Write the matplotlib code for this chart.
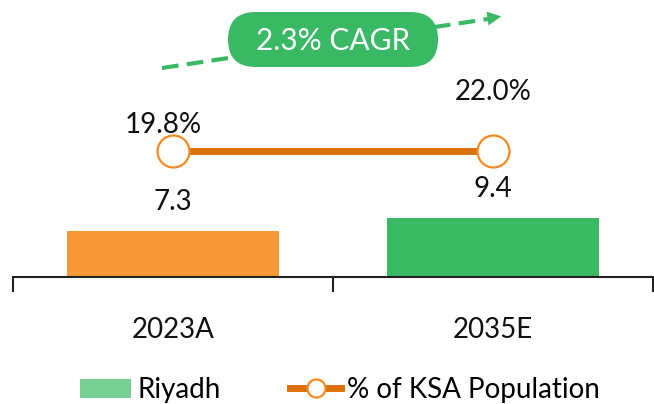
import matplotlib
matplotlib.use('Agg')
import matplotlib.pyplot as plt
from matplotlib.patches import FancyBboxPatch, Patch
from matplotlib.lines import Line2D

years = ['2023A', '2035E']
riyadh_pop = [7.3, 9.4]
ksa_share = [19.8, 22.0]
cagr_text = '2.3% CAGR'

orange = '#F7993A'
green = '#39B964'
light_green = '#77CF94'
line_orange = '#D9700A'
marker_orange = '#F58A1F'
ink = '#111111'

plt.rcParams['font.family'] = ['Lato', 'DejaVu Sans']
fs = 20

W, H = 654, 404
fig = plt.figure(figsize=(W / 100, H / 100), dpi=100)

# main axes: baseline sits 127 px above the bottom edge
ax = fig.add_axes([13 / W, 127 / H, 640 / W, 277 / H])
x = list(range(len(years)))
ax.bar(x, riyadh_pop, width=0.665, color=[orange, green], zorder=2)
for xi, v in zip(x, riyadh_pop):
    ax.text(xi, v + 4.6, f'{v:.1f}', ha='center', va='center', fontsize=fs, color=ink)

# share of KSA population drawn as a flat track above the bars
track = 20.0
ax.plot(x, [track] * len(x), color=line_orange, lw=5, zorder=3, solid_capstyle='butt')
ax.plot(x, [track] * len(x), ls='none', marker='o', ms=23, mfc='white',
        mec=marker_orange, mew=1.6, zorder=4)
share_offsets = [(-0.031, 4.1), (0.0, 9.4)]
for xi, v, (dx, dy) in zip(x, ksa_share, share_offsets):
    ax.text(xi + dx, track + dy, f'{v:.1f}%', ha='center', va='center', fontsize=fs, color=ink)

ax.set_xlim(-0.5, 1.5)
ax.set_ylim(0, 277 / 6.3)
for s in ['top', 'right', 'left']:
    ax.spines[s].set_visible(False)
ax.spines['bottom'].set_linewidth(1.5)
ax.spines['bottom'].set_color('#222222')
ax.set_yticks([])
ax.set_xticks([-0.5, 0.5, 1.5])
ax.set_xticklabels([])
ax.tick_params(axis='x', length=11, width=1.5, color='#222222', direction='out')
for xi, lab in zip(x, years):
    ax.text(xi, -8.4, lab, ha='center', va='center', fontsize=fs, color=ink)

# overlay in pixel units for the CAGR call-out
ov = fig.add_axes([0, 0, 1, 1])
ov.set_xlim(0, W)
ov.set_ylim(H, 0)
ov.axis('off')
ov.plot([162, 488], [68, 19], color=green, lw=3, ls=(0, (4, 2)), zorder=1)
ov.annotate('', xy=(504, 16), xytext=(484, 19),
            arrowprops=dict(arrowstyle='-|>', color=green, lw=0, mutation_scale=25), zorder=1)
pill = FancyBboxPatch((255, 39), 156, 1, boxstyle='round,pad=27,rounding_size=27.5',
                      facecolor=green, edgecolor='none', zorder=2)
ov.add_patch(pill)
ov.text(333, 41, cagr_text, ha='center', va='center', fontsize=21.5, color='white', zorder=3)

handles = [Patch(facecolor=light_green, edgecolor='none', label='Riyadh'),
           Line2D([], [], color=line_orange, lw=5, marker='o', ms=13, mfc='white',
                  mec=marker_orange, mew=1.6, label='% of KSA Population')]
fig.legend(handles=handles, loc='center', bbox_to_anchor=(0.52, 14 / H), ncol=2,
           frameon=False, fontsize=fs, handlelength=1.85, handleheight=0.7,
           handletextpad=0.21, columnspacing=2.5)

fig.savefig('out.png', dpi=100)
